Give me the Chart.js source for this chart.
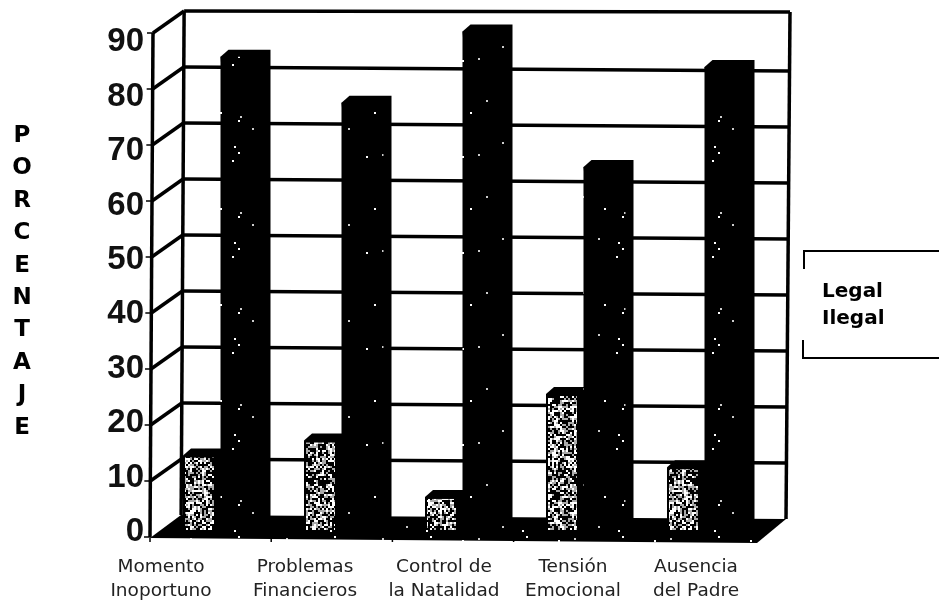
<!DOCTYPE html>
<html>
<head>
<meta charset="utf-8">
<style>html,body{margin:0;padding:0;background:#fff}canvas{display:block}</style>
<script src="https://cdn.jsdelivr.net/npm/chart.js@4"></script>
</head>
<body>
<canvas id="c" width="939" height="600"></canvas>
<script>
const categories = [["Momento","Inoportuno"],["Problemas","Financieros"],["Control de","la Natalidad"],["Tensión","Emocional"],["Ausencia","del Padre"]];
const legalValues = [13.3, 16, 5.9, 24.3, 11.2];
const ilegalValues = [84.5, 76.3, 89, 64.8, 82.7];
const seriesNames = ["Legal", "Ilegal"];
const yTicks = [0,10,20,30,40,50,60,70,80,90];
const yTitleLetters = ["P","O","R","C","E","N","T","A","J","E"];
const xLabelShift = [-59.5,-36.5,-18.5,-10.5,-8.5];

function speckle(density, size, light){
  const n = 96, t = document.createElement('canvas');
  t.width = t.height = n;
  const g = t.getContext('2d');
  g.fillStyle = '#000'; g.fillRect(0,0,n,n);
  let s = 20240117;
  const next = () => {
    s = (s + 0x6D2B79F5) | 0;
    let r = Math.imul(s ^ (s >>> 15), 1 | s);
    r = (r + Math.imul(r ^ (r >>> 7), 61 | r)) ^ r;
    return ((r ^ (r >>> 14)) >>> 0) / 4294967296;
  };
  for (let y = 0; y < n; y += size) for (let x = 0; x < n; x += size) {
    const a = next(), b = next();
    if (a < density) {
      g.fillStyle = b > .55 ? '#fff' : light;
      g.fillRect(x, y, size, size);
    }
  }
  return g.createPattern(t, 'repeat');
}
const ctx = document.getElementById('c').getContext('2d');
const legalFill = speckle(.55, 2, '#aaa');
const ilegalFill = speckle(.006, 2, '#ccc');

const wallPlugin = {
  id: 'wall',
  afterLayout(chart){
    const l = chart.legend;
    l.left = 805; l.right = 939; l.top = 275; l.bottom = 400;
  },
  beforeDatasetsDraw(chart){
    const c = chart.ctx, y = chart.scales.y;
    const backY = v => y.getPixelForValue(v) - 15;
    const frontY = v => y.getPixelForValue(v) + 7;
    const lean = p => (537 - p) * 3 / 505;
    c.save();
    c.strokeStyle = '#000'; c.lineCap = 'butt';
    // floor
    c.fillStyle = ilegalFill;
    c.beginPath();
    c.moveTo(150, frontY(0) + 1); c.lineTo(181, backY(0)); c.lineTo(786, backY(0) + 4); c.lineTo(757, frontY(0) + 6);
    c.closePath(); c.fill();
    // back wall grid
    c.lineWidth = 3.5;
    yTicks.forEach(v => {
      if (v === 0) return;
      const p = backY(v), x0 = 181 + lean(p);
      c.beginPath(); c.moveTo(x0, p); c.lineTo(786 + (515 - p) * 4 / 503, p + 4 - (v === 90 ? 3 : 0)); c.stroke();
    });
    // diagonals and tick marks
    yTicks.forEach(v => {
      const f = frontY(v), b = backY(v);
      c.lineWidth = 3.5;
      if (v > 0) { c.beginPath(); c.moveTo(150 + lean(f), f); c.lineTo(181 + lean(b), b); c.stroke(); }
      c.lineWidth = 1.5;
      c.beginPath(); c.moveTo(144 + lean(f), f); c.lineTo(151 + lean(f), f); c.stroke();
    });
    // verticals
    c.lineWidth = 3.5;
    [[150, frontY(0), frontY(90)], [181, backY(0), backY(90)]].forEach(([x, a, b]) => {
      c.beginPath(); c.moveTo(x + lean(a), a); c.lineTo(x + lean(b), b); c.stroke();
    });
    c.beginPath(); c.moveTo(786, backY(0) + 4); c.lineTo(790, backY(90) + 1); c.stroke();
    // bottom tick marks
    c.lineWidth = 1.5;
    for (let i = 0; i <= categories.length; i++) {
      const x = 150 + i * 121.2;
      c.beginPath(); c.moveTo(x, frontY(0) + 1); c.lineTo(x, frontY(0) + 5); c.stroke();
    }
    // bar depth (top and side faces)
    c.fillStyle = '#000';
    chart.getSortedVisibleDatasetMetas().forEach(m => m.data.forEach(b => {
      const L = b.x - b.width / 2, R = b.x + b.width / 2;
      c.beginPath();
      c.moveTo(L, b.y); c.lineTo(L + 8, b.y - 7); c.lineTo(R + 8, b.y - 7);
      c.lineTo(R + 8, b.base - 7); c.lineTo(R, b.base); c.closePath(); c.fill();
    }));
    c.restore();
  },
  afterDraw(chart){
    const c = chart.ctx;
    c.save();
    // legend frame
    c.strokeStyle = '#000'; c.lineWidth = 2;
    c.beginPath();
    c.moveTo(939, 251); c.lineTo(804, 251); c.lineTo(804, 269);
    c.moveTo(803, 340); c.lineTo(803, 358); c.lineTo(939, 358);
    c.stroke();
    // vertical title
    c.fillStyle = '#000'; c.font = 'bold 23px "DejaVu Sans"';
    c.textAlign = 'center'; c.textBaseline = 'middle';
    yTitleLetters.forEach((ch, i) => c.fillText(ch, 22, 136 + i * 32.4));
    c.restore();
  }
};

new Chart(ctx, {
  type: 'bar',
  data: {
    labels: categories,
    datasets: [
      { label: seriesNames[0], data: legalValues, backgroundColor: legalFill, borderColor: '#000', borderWidth: 2, barPercentage: 33 / 42, categoryPercentage: 84 / 121 },
      { label: seriesNames[1], data: ilegalValues, backgroundColor: ilegalFill, borderWidth: 0, barPercentage: 1, categoryPercentage: 84 / 121 }
    ]
  },
  plugins: [wallPlugin],
  options: {
    responsive: false,
    animation: false,
    layout: { padding: { top: 26, right: 134, left: 0, bottom: 0 } },
    plugins: {
      tooltip: { enabled: false },
      legend: {
        position: 'right', align: 'start', maxWidth: 40,
        labels: { boxWidth: 0, padding: 7, color: '#000', font: { family: '"DejaVu Sans"', size: 20, weight: 'bold' } }
      }
    },
    scales: {
      x: {
        grid: { display: false }, border: { display: false },
        ticks: { color: '#222', autoSkip: false, maxRotation: 0, padding: 18, font: { family: '"DejaVu Sans"', size: 18.5, lineHeight: 1.26 } },
        afterFit(s){ s.height = 70; s.paddingLeft = 0; s.paddingRight = 0; },
        afterUpdate(s){
          s.getPixelForTick = i => Object.getPrototypeOf(s).getPixelForTick.call(s, i) + xLabelShift[i];
        }
      },
      y: {
        min: 0, max: 90,
        grid: { display: false }, border: { display: false },
        ticks: { stepSize: 10, color: '#111', padding: 8, font: { family: '"Liberation Sans"', size: 33, weight: 'bold' } },
        afterFit(s){ s.width = 160; s.paddingTop = 0; s.paddingBottom = 0; },
        afterUpdate(s){
          s.getPixelForTick = i => {
            const base = Object.getPrototypeOf(s).getPixelForTick.call(s, i);
            return base + 2 + (530 - base) * 1.6 / 56;
          };
        }
      }
    }
  }
});
</script>
</body>
</html>
